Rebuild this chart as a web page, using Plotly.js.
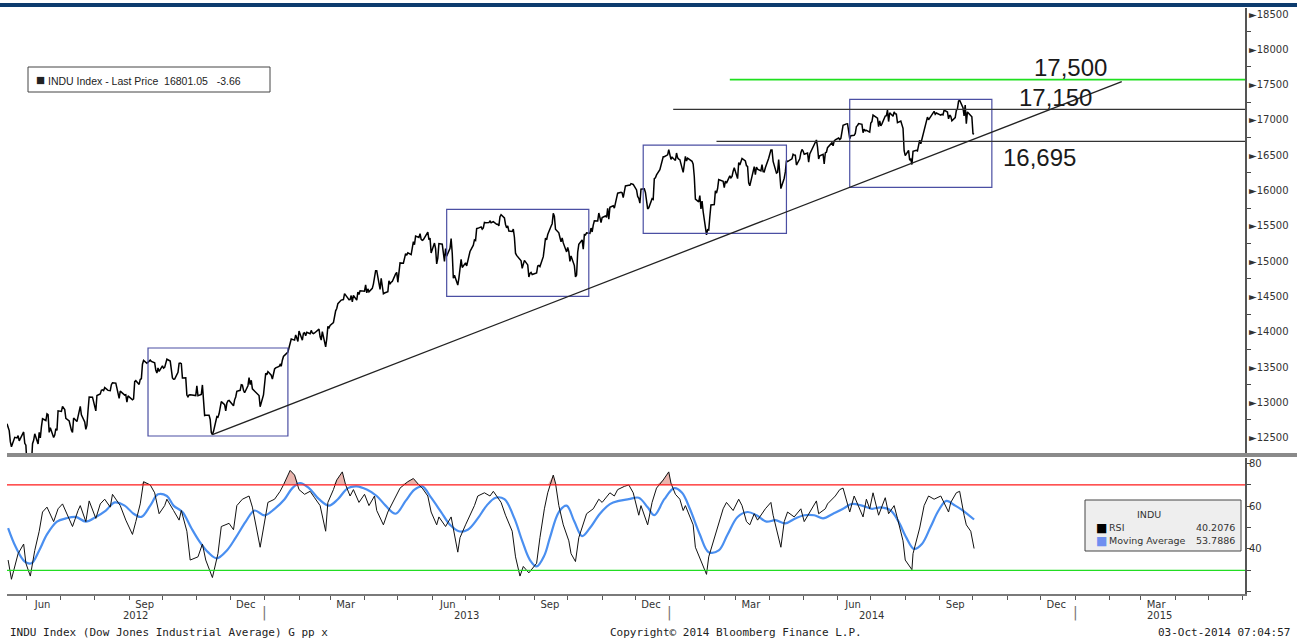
<!DOCTYPE html>
<html><head><meta charset="utf-8">
<script src="https://cdn.plot.ly/plotly-3.0.1.min.js"></script>
<style>html,body{margin:0;padding:0;background:#fff;}#chart{width:1297px;height:642px;}</style>
</head><body><div id="chart"></div>
<script>
// ---- DATA ----
const indu2012 = [
["2012-05-14",12695],["2012-05-15",12632],["2012-05-16",12599],["2012-05-17",12443],["2012-05-18",12369],["2012-05-21",12504],["2012-05-22",12502],["2012-05-23",12496],["2012-05-24",12529],["2012-05-25",12455],
["2012-05-29",12580],["2012-05-30",12419],["2012-05-31",12393],["2012-06-01",12119],["2012-06-04",12101],["2012-06-05",12127],["2012-06-06",12414],["2012-06-07",12461],["2012-06-08",12554],["2012-06-11",12411],
["2012-06-12",12574],["2012-06-13",12497],["2012-06-14",12652],["2012-06-15",12767],["2012-06-18",12742],["2012-06-19",12837],["2012-06-20",12824],["2012-06-21",12574],["2012-06-22",12640],["2012-06-25",12502],
["2012-06-26",12535],["2012-06-27",12627],["2012-06-28",12602],["2012-06-29",12880],["2012-07-02",12871],["2012-07-03",12943],["2012-07-05",12897],["2012-07-06",12772],["2012-07-09",12736],["2012-07-10",12653],
["2012-07-11",12605],["2012-07-12",12573],["2012-07-13",12777],["2012-07-16",12727],["2012-07-17",12806],["2012-07-18",12909],["2012-07-19",12943],["2012-07-20",12822],["2012-07-23",12722],["2012-07-24",12617],
["2012-07-25",12676],["2012-07-26",12888],["2012-07-27",13076],["2012-07-30",13073],["2012-07-31",13009],["2012-08-01",12976],["2012-08-02",12879],["2012-08-03",13096],["2012-08-06",13118],["2012-08-07",13169],
["2012-08-08",13176],["2012-08-09",13166],["2012-08-10",13208],["2012-08-13",13169],["2012-08-14",13172],["2012-08-15",13165],["2012-08-16",13250],["2012-08-17",13276],["2012-08-20",13272],["2012-08-21",13203],
["2012-08-22",13173],["2012-08-23",13057],["2012-08-24",13158],["2012-08-27",13124],["2012-08-28",13103],["2012-08-29",13108],["2012-08-30",13001],["2012-08-31",13091],["2012-09-04",13036],["2012-09-05",13048],
["2012-09-06",13292],["2012-09-07",13307],["2012-09-10",13254],["2012-09-11",13324],["2012-09-12",13334],["2012-09-13",13540],["2012-09-14",13593],["2012-09-17",13553],["2012-09-18",13565],["2012-09-19",13578],
["2012-09-20",13597],["2012-09-21",13580],["2012-09-24",13559],["2012-09-25",13458],["2012-09-26",13414],["2012-09-27",13486],["2012-09-28",13437],["2012-10-01",13516],["2012-10-02",13483],["2012-10-03",13495],
["2012-10-04",13575],["2012-10-05",13610],["2012-10-08",13584],["2012-10-09",13474],["2012-10-10",13345],["2012-10-11",13327],["2012-10-12",13329],["2012-10-15",13424],["2012-10-16",13551],["2012-10-17",13557],
["2012-10-18",13548],["2012-10-19",13344],["2012-10-22",13346],["2012-10-23",13103],["2012-10-24",13078],["2012-10-25",13104],["2012-10-26",13107],["2012-10-31",13096],["2012-11-01",13232],["2012-11-02",13093],
["2012-11-05",13112],["2012-11-06",13246],["2012-11-07",12933],["2012-11-08",12812],["2012-11-09",12815],["2012-11-12",12815],["2012-11-13",12757],["2012-11-14",12571],["2012-11-15",12543],["2012-11-16",12589],
["2012-11-19",12796],["2012-11-20",12788],["2012-11-21",12837],["2012-11-23",13010],["2012-11-26",12968],["2012-11-27",12879],["2012-11-28",12986],["2012-11-29",13022],["2012-11-30",13026],["2012-12-03",12966],
["2012-12-04",12951],["2012-12-05",13035],["2012-12-06",13075],["2012-12-07",13155],["2012-12-10",13170],["2012-12-11",13249],["2012-12-12",13245],["2012-12-13",13171],["2012-12-14",13135],["2012-12-17",13235],
["2012-12-18",13351],["2012-12-19",13252],["2012-12-20",13312],["2012-12-21",13190],["2012-12-24",13139],["2012-12-26",13114],["2012-12-27",13096],["2012-12-28",12938],["2012-12-31",13104]
];
const indu2013 = [
["2013-01-02",13412],["2013-01-03",13391],["2013-01-04",13435],["2013-01-07",13384],["2013-01-08",13329],["2013-01-09",13391],["2013-01-10",13472],["2013-01-11",13488],["2013-01-14",13507],["2013-01-15",13535],
["2013-01-16",13511],["2013-01-17",13596],["2013-01-18",13650],["2013-01-22",13712],["2013-01-23",13780],["2013-01-24",13825],["2013-01-25",13896],["2013-01-28",13881],["2013-01-29",13954],["2013-01-30",13910],
["2013-01-31",13861],["2013-02-01",14010],["2013-02-04",13880],["2013-02-05",13979],["2013-02-06",13986],["2013-02-07",13944],["2013-02-08",13993],["2013-02-11",13971],["2013-02-12",14019],["2013-02-13",13982],
["2013-02-14",13973],["2013-02-15",13982],["2013-02-19",14036],["2013-02-20",13928],["2013-02-21",13881],["2013-02-22",14001],["2013-02-25",13784],["2013-02-26",13900],["2013-02-27",14075],["2013-02-28",14054],
["2013-03-01",14090],["2013-03-04",14128],["2013-03-05",14254],["2013-03-06",14296],["2013-03-07",14329],["2013-03-08",14397],["2013-03-11",14448],["2013-03-12",14450],["2013-03-13",14455],["2013-03-14",14539],
["2013-03-15",14515],["2013-03-18",14453],["2013-03-19",14456],["2013-03-20",14512],["2013-03-21",14421],["2013-03-22",14513],["2013-03-25",14448],["2013-03-26",14560],["2013-03-27",14527],["2013-03-28",14579],
["2013-04-01",14573],["2013-04-02",14663],["2013-04-03",14551],["2013-04-04",14607],["2013-04-05",14565],["2013-04-08",14614],["2013-04-09",14674],["2013-04-10",14803],["2013-04-11",14865],["2013-04-12",14865],
["2013-04-15",14599],["2013-04-16",14757],["2013-04-17",14619],["2013-04-18",14537],["2013-04-19",14548],["2013-04-22",14568],["2013-04-23",14720],["2013-04-24",14676],["2013-04-25",14701],["2013-04-26",14712],
["2013-04-29",14819],["2013-04-30",14840],["2013-05-01",14700],["2013-05-02",14831],["2013-05-03",14974],["2013-05-06",14969],["2013-05-07",15056],["2013-05-08",15105],["2013-05-09",15083],["2013-05-10",15118],
["2013-05-13",15092],["2013-05-14",15216],["2013-05-15",15275],["2013-05-16",15233],["2013-05-17",15354],["2013-05-20",15335],["2013-05-21",15388],["2013-05-22",15307],["2013-05-23",15295],["2013-05-24",15303],
["2013-05-28",15410],["2013-05-29",15303],["2013-05-30",15325],["2013-05-31",15116],["2013-06-03",15255],["2013-06-04",15177],["2013-06-05",14960],["2013-06-06",15041],["2013-06-07",15248],["2013-06-10",15239],
["2013-06-11",15123],["2013-06-12",14996],["2013-06-13",15177],["2013-06-14",15071],["2013-06-17",15180],["2013-06-18",15318],["2013-06-19",15112],["2013-06-20",14758],["2013-06-21",14800],["2013-06-24",14660],
["2013-06-25",14760],["2013-06-26",14910],["2013-06-27",15024],["2013-06-28",14910],["2013-07-01",14975],["2013-07-02",14932],["2013-07-03",14988],["2013-07-05",15136],["2013-07-08",15225],["2013-07-09",15300],
["2013-07-10",15291],["2013-07-11",15460],["2013-07-12",15464],["2013-07-15",15485],["2013-07-16",15452],["2013-07-17",15471],["2013-07-18",15549],["2013-07-19",15544],["2013-07-22",15545],["2013-07-23",15568],
["2013-07-24",15543],["2013-07-25",15556],["2013-07-26",15559],["2013-07-29",15521],["2013-07-30",15521],["2013-07-31",15500],["2013-08-01",15628],["2013-08-02",15658],["2013-08-05",15612],["2013-08-06",15519],
["2013-08-07",15471],["2013-08-08",15498],["2013-08-09",15425],["2013-08-12",15419],["2013-08-13",15452],["2013-08-14",15338],["2013-08-15",15112],["2013-08-16",15081],["2013-08-19",15011],["2013-08-20",15003],
["2013-08-21",14897],["2013-08-22",14963],["2013-08-23",15010],["2013-08-26",14946],["2013-08-27",14776],["2013-08-28",14825],["2013-08-29",14840],["2013-08-30",14810],["2013-09-03",14834],["2013-09-04",14931],
["2013-09-05",14938],["2013-09-06",14922],["2013-09-09",15063],["2013-09-10",15191],["2013-09-11",15327],["2013-09-12",15301],["2013-09-13",15376],["2013-09-16",15494],["2013-09-17",15530],["2013-09-18",15677],
["2013-09-19",15636],["2013-09-20",15452],["2013-09-23",15401],["2013-09-24",15334],["2013-09-25",15273],["2013-09-26",15329],["2013-09-27",15258],["2013-09-30",15130],["2013-10-01",15192],["2013-10-02",15134],
["2013-10-03",14997],["2013-10-04",15073],["2013-10-07",14936],["2013-10-08",14776],["2013-10-09",14803],["2013-10-10",15126],["2013-10-11",15237],["2013-10-14",15301],["2013-10-15",15168],["2013-10-16",15374],
["2013-10-17",15372],["2013-10-18",15400],["2013-10-21",15392],["2013-10-22",15468],["2013-10-23",15413],["2013-10-24",15510],["2013-10-25",15570],["2013-10-28",15569],["2013-10-29",15681],["2013-10-30",15618],
["2013-10-31",15546],["2013-11-01",15616],["2013-11-04",15639],["2013-11-05",15619],["2013-11-06",15747],["2013-11-07",15594],["2013-11-08",15762],["2013-11-11",15784],["2013-11-12",15751],["2013-11-13",15822],
["2013-11-14",15876],["2013-11-15",15962],["2013-11-18",15976],["2013-11-19",15967],["2013-11-20",15900],["2013-11-21",16010],["2013-11-22",16065],["2013-11-25",16073],["2013-11-26",16073],["2013-11-27",16097],
["2013-11-29",16086],["2013-12-02",16008],["2013-12-03",15915],["2013-12-04",15889],["2013-12-05",15821],["2013-12-06",16020],["2013-12-09",16025],["2013-12-10",15973],["2013-12-11",15844],["2013-12-12",15740],
["2013-12-13",15755],["2013-12-16",15885],["2013-12-17",15875],["2013-12-18",16168],["2013-12-19",16179],["2013-12-20",16221],["2013-12-23",16295],["2013-12-24",16358],["2013-12-26",16479],["2013-12-27",16479],
["2013-12-30",16505],["2013-12-31",16577]
];
const indu2014 = [
["2014-01-02",16441],["2014-01-03",16470],["2014-01-06",16426],["2014-01-07",16531],["2014-01-08",16463],["2014-01-09",16445],["2014-01-10",16437],["2014-01-13",16257],["2014-01-14",16374],["2014-01-15",16482],
["2014-01-16",16418],["2014-01-17",16459],["2014-01-21",16414],["2014-01-22",16373],["2014-01-23",16198],["2014-01-24",15879],["2014-01-27",15838],["2014-01-28",15929],["2014-01-29",15739],["2014-01-30",15849],
["2014-01-31",15699],["2014-02-03",15373],["2014-02-04",15445],["2014-02-05",15441],["2014-02-06",15629],["2014-02-07",15795],["2014-02-10",15802],["2014-02-11",15995],["2014-02-12",15964],["2014-02-13",16028],
["2014-02-14",16154],["2014-02-18",16130],["2014-02-19",16041],["2014-02-20",16134],["2014-02-21",16104],["2014-02-24",16208],["2014-02-25",16179],["2014-02-26",16199],["2014-02-27",16273],["2014-02-28",16322],
["2014-03-03",16168],["2014-03-04",16396],["2014-03-05",16361],["2014-03-06",16422],["2014-03-07",16453],["2014-03-10",16418],["2014-03-11",16351],["2014-03-12",16341],["2014-03-13",16109],["2014-03-14",16066],
["2014-03-17",16247],["2014-03-18",16337],["2014-03-19",16223],["2014-03-20",16332],["2014-03-21",16302],["2014-03-24",16277],["2014-03-25",16368],["2014-03-26",16268],["2014-03-27",16264],["2014-03-28",16323],
["2014-03-31",16458],["2014-04-01",16533],["2014-04-02",16573],["2014-04-03",16573],["2014-04-04",16413],["2014-04-07",16246],["2014-04-08",16257],["2014-04-09",16437],["2014-04-10",16171],["2014-04-11",16027],
["2014-04-14",16174],["2014-04-15",16263],["2014-04-16",16425],["2014-04-17",16409],["2014-04-21",16449],["2014-04-22",16514],["2014-04-23",16502],["2014-04-24",16501],["2014-04-25",16361],["2014-04-28",16448],
["2014-04-29",16535],["2014-04-30",16581],["2014-05-01",16558],["2014-05-02",16513],["2014-05-05",16531],["2014-05-06",16402],["2014-05-07",16518],["2014-05-08",16551],["2014-05-09",16583],["2014-05-12",16695],
["2014-05-13",16716],["2014-05-14",16614],["2014-05-15",16447],["2014-05-16",16492],["2014-05-19",16512],["2014-05-20",16375],["2014-05-21",16533],["2014-05-22",16543],["2014-05-23",16606],["2014-05-27",16676],
["2014-05-28",16633],["2014-05-29",16699],["2014-05-30",16717],["2014-06-02",16744],["2014-06-03",16722],["2014-06-04",16738],["2014-06-05",16836],["2014-06-06",16924],["2014-06-09",16944],["2014-06-10",16946],
["2014-06-11",16844],["2014-06-12",16735],["2014-06-13",16776],["2014-06-16",16781],["2014-06-17",16808],["2014-06-18",16906],["2014-06-19",16921],["2014-06-20",16947],["2014-06-23",16937],["2014-06-24",16819],
["2014-06-25",16868],["2014-06-26",16846],["2014-06-27",16852],["2014-06-30",16827],["2014-07-01",16957],["2014-07-02",16976],["2014-07-03",17068],["2014-07-07",17024],["2014-07-08",16906],["2014-07-09",16985],
["2014-07-10",16915],["2014-07-11",16944],["2014-07-14",17055],["2014-07-15",17061],["2014-07-16",17139],["2014-07-17",16977],["2014-07-18",17100],["2014-07-21",17052],["2014-07-22",17114],["2014-07-23",17087],
["2014-07-24",17083],["2014-07-25",16961],["2014-07-28",16983],["2014-07-29",16913],["2014-07-30",16881],["2014-07-31",16563],["2014-08-01",16493],["2014-08-04",16569],["2014-08-05",16430],["2014-08-06",16443],
["2014-08-07",16368],["2014-08-08",16554],["2014-08-11",16570],["2014-08-12",16561],["2014-08-13",16652],["2014-08-14",16713],["2014-08-15",16663],["2014-08-18",16839],["2014-08-19",16920],["2014-08-20",16979],
["2014-08-21",17040],["2014-08-22",17001],["2014-08-25",17077],["2014-08-26",17107],["2014-08-27",17122],["2014-08-28",17080],["2014-08-29",17098],["2014-09-02",17068],["2014-09-03",17079],["2014-09-04",17070],
["2014-09-05",17138],["2014-09-08",17112],["2014-09-09",17014],["2014-09-10",17068],["2014-09-11",17050],["2014-09-12",16988],["2014-09-15",17032],["2014-09-16",17132],["2014-09-17",17157],["2014-09-18",17266],
["2014-09-19",17280],["2014-09-22",17173],["2014-09-23",17056],["2014-09-24",17211],["2014-09-25",16946],["2014-09-26",17113],["2014-09-29",17071],["2014-09-30",17043],["2014-10-01",16805],["2014-10-02",16801]
];
const rsiPoints = [
["2012-05-15",34.8],["2012-05-18",25.8],["2012-05-24",37.8],["2012-05-29",42.3],["2012-05-31",33.3],["2012-06-04",27.3],["2012-06-08",39.3],["2012-06-12",48.3],["2012-06-15",57.3],["2012-06-19",59.6],
["2012-06-25",52.8],["2012-06-29",58.8],["2012-07-03",61.1],["2012-07-09",54.3],["2012-07-12",50.5],["2012-07-17",58],["2012-07-19",60.3],["2012-07-24",52.8],["2012-07-27",62.5],["2012-08-02",54.3],
["2012-08-06",61.1],["2012-08-10",63.3],["2012-08-15",59.6],["2012-08-17",65.6],["2012-08-24",60.3],["2012-08-29",53.5],["2012-09-04",46.8],["2012-09-07",52.8],["2012-09-11",61.1],["2012-09-14",71.5],
["2012-09-20",70],["2012-09-24",66.3],["2012-09-28",56.5],["2012-10-03",60.3],["2012-10-05",63.3],["2012-10-11",58],["2012-10-16",53.5],["2012-10-18",58],["2012-10-23",48.3],["2012-10-26",34.8],
["2012-11-02",36.3],["2012-11-06",42.3],["2012-11-09",34.8],["2012-11-15",26.6],["2012-11-20",37.8],["2012-11-23",50.5],["2012-11-30",52],["2012-12-04",49],["2012-12-07",60.3],["2012-12-12",63.3],
["2012-12-18",64.8],["2012-12-21",59.6],["2012-12-28",40.8],["2013-01-02",55.7],["2013-01-04",61.8],["2013-01-10",63.3],["2013-01-15",67],["2013-01-18",70],["2013-01-24",76.8],["2013-01-28",74.6],
["2013-02-01",67.8],["2013-02-06",65.6],["2013-02-11",67],["2013-02-15",64],["2013-02-20",60.3],["2013-02-25",48.3],["2013-02-27",61.8],["2013-03-04",67.8],["2013-03-07",72.3],["2013-03-12",76.1],
["2013-03-15",70],["2013-03-19",64.8],["2013-03-22",67.8],["2013-03-27",61.8],["2013-04-01",65.6],["2013-04-05",60.3],["2013-04-10",64.8],["2013-04-12",58],["2013-04-18",51.3],["2013-04-22",57.3],
["2013-04-29",64.8],["2013-05-03",68.5],["2013-05-10",71.5],["2013-05-15",73],["2013-05-20",70],["2013-05-23",68.5],["2013-05-28",64.8],["2013-05-31",57.3],["2013-06-05",51.3],["2013-06-07",55],
["2013-06-13",50.5],["2013-06-18",55],["2013-06-24",38.5],["2013-06-26",45.3],["2013-07-01",51.3],["2013-07-05",55.8],["2013-07-09",60.3],["2013-07-12",64.8],["2013-07-18",66.3],["2013-07-23",64.8],
["2013-07-26",67],["2013-08-02",61.8],["2013-08-06",55.8],["2013-08-12",48.3],["2013-08-15",36.3],["2013-08-19",27.3],["2013-08-22",31.8],["2013-08-27",28.8],["2013-09-03",33.3],["2013-09-06",45.3],
["2013-09-10",58.8],["2013-09-13",66.3],["2013-09-18",74.6],["2013-09-20",70.8],["2013-09-23",60.3],["2013-09-27",51.3],["2013-10-02",43.8],["2013-10-04",37.8],["2013-10-08",34.1],["2013-10-11",45.3],
["2013-10-16",52.8],["2013-10-18",56.5],["2013-10-24",58.8],["2013-10-29",63.3],["2013-11-01",61.8],["2013-11-08",66.3],["2013-11-12",64.8],["2013-11-15",67.8],["2013-11-21",69.3],["2013-11-25",70],
["2013-11-29",66.3],["2013-12-04",55.8],["2013-12-06",60.3],["2013-12-12",51.3],["2013-12-16",61.8],["2013-12-20",68.5],["2013-12-26",72.3],["2013-12-31",76.1],["2014-01-02",70.8],["2014-01-06",65.6],
["2014-01-10",63.3],["2014-01-13",58],["2014-01-15",60.3],["2014-01-22",51.3],["2014-01-24",40.8],["2014-01-29",34.8],["2014-02-03",28.1],["2014-02-05",36.3],["2014-02-10",45.3],["2014-02-14",52.8],
["2014-02-18",58.8],["2014-02-21",61.8],["2014-02-27",58],["2014-03-04",63.3],["2014-03-07",60.3],["2014-03-11",52.8],["2014-03-14",51.3],["2014-03-18",56.5],["2014-03-21",53.5],["2014-03-28",58.8],
["2014-04-02",61.8],["2014-04-04",55.8],["2014-04-11",40.8],["2014-04-14",52.8],["2014-04-17",57.3],["2014-04-23",55],["2014-04-29",58.8],["2014-05-02",52.8],["2014-05-07",57.3],["2014-05-13",62.5],
["2014-05-15",56.5],["2014-05-21",58.8],["2014-05-23",61.1],["2014-05-30",64.8],["2014-06-03",67.8],["2014-06-06",68.5],["2014-06-12",57.3],["2014-06-16",64.8],["2014-06-24",55],["2014-06-27",63.3],
["2014-06-30",58.8],["2014-07-03",66.3],["2014-07-08",55.8],["2014-07-14",64],["2014-07-17",56.5],["2014-07-22",60.3],["2014-07-25",54.3],["2014-07-30",43.8],["2014-08-01",34.8],["2014-08-07",30.3],
["2014-08-08",37.8],["2014-08-14",49.8],["2014-08-18",60.3],["2014-08-22",64.8],["2014-08-27",63.3],["2014-09-02",64.8],["2014-09-09",57.3],["2014-09-11",61.8],["2014-09-16",66.3],["2014-09-19",67],
["2014-09-23",55.8],["2014-09-25",51.3],["2014-09-29",48.3],["2014-10-02",40.21]
];
const maPoints = [
["2012-05-15",49.8],["2012-05-22",40.8],["2012-05-30",34.1],["2012-06-05",33.3],["2012-06-12",39.3],["2012-06-19",46.8],["2012-06-28",52.8],["2012-07-06",54.3],["2012-07-15",55],["2012-07-24",52.8],
["2012-08-02",55],["2012-08-11",58],["2012-08-19",61.8],["2012-08-28",60.3],["2012-09-05",56.5],["2012-09-12",55],["2012-09-20",60.3],["2012-09-27",65.6],["2012-10-05",64.8],["2012-10-11",60.3],
["2012-10-19",57.3],["2012-10-27",49.8],["2012-11-03",43.8],["2012-11-11",38.5],["2012-11-19",35.6],["2012-11-28",39.3],["2012-12-06",45.3],["2012-12-15",52.8],["2012-12-23",58],["2013-01-01",55.7],
["2013-01-10",58.8],["2013-01-19",63.3],["2013-01-26",68.5],["2013-02-02",70.8],["2013-02-10",68.5],["2013-02-19",63.3],["2013-02-28",60.3],["2013-03-08",63.3],["2013-03-17",68.5],["2013-03-25",69.3],
["2013-04-03",67.8],["2013-04-12",64.8],["2013-04-20",60.3],["2013-04-29",56.5],["2013-05-08",62.5],["2013-05-16",67.8],["2013-05-23",69.3],["2013-05-31",64],["2013-06-09",57.3],["2013-06-17",51.3],
["2013-06-25",48.3],["2013-07-03",49],["2013-07-12",54.3],["2013-07-20",60.3],["2013-07-28",64],["2013-08-05",63.3],["2013-08-14",54.3],["2013-08-21",43.8],["2013-08-28",34.8],["2013-09-03",31.8],
["2013-09-10",37],["2013-09-15",45.3],["2013-09-23",57.3],["2013-09-30",60.3],["2013-10-07",52.8],["2013-10-14",46],["2013-10-21",49.8],["2013-10-30",56.5],["2013-11-08",61],["2013-11-16",62.5],
["2013-11-25",63.3],["2013-12-04",64],["2013-12-12",59.5],["2013-12-18",55.8],["2013-12-27",63.3],["2014-01-05",68.5],["2014-01-12",66.3],["2014-01-19",58.8],["2014-01-28",46.8],["2014-02-05",38.5],
["2014-02-14",39.3],["2014-02-22",46.8],["2014-03-03",55],["2014-03-12",57.3],["2014-03-20",55.8],["2014-03-29",52.8],["2014-04-06",53.5],["2014-04-15",52],["2014-04-24",54.3],["2014-05-02",55.8],
["2014-05-11",55.8],["2014-05-19",54.3],["2014-05-28",56.5],["2014-06-06",58.8],["2014-06-14",61.1],["2014-06-23",60.3],["2014-07-02",58.8],["2014-07-10",59.5],["2014-07-19",58],["2014-07-26",52.8],
["2014-08-02",45.3],["2014-08-09",40],["2014-08-16",42.3],["2014-08-24",50.5],["2014-08-31",58],["2014-09-07",62.5],["2014-09-15",60.3],["2014-09-22",58],["2014-10-02",53.79]
];
const boxes = [
  {x0:"2012-09-18", x1:"2013-01-22", y0:12523, y1:13769},
  {x0:"2013-06-14", x1:"2013-10-20", y0:14501, y1:15734},
  {x0:"2013-12-08", x1:"2014-04-16", y0:15394, y1:16644},
  {x0:"2014-06-12", x1:"2014-10-18", y0:16045, y1:17292}
];
const levelLabels = ["17,500", "17,150", "16,695"];
const levelValues = [17570, 17150, 16695];
const levelStarts = ["2014-02-24", "2014-01-04", "2014-02-12"];
const levelColors = ["#1fe01f", "#333333", "#333333"];
const labelPos = [["2014-12-28",17749],["2014-12-14",17324],["2014-11-30",16474]];
const trendStart = ["2012-11-15", 12542];
const trendEnd = ["2015-02-12", 17541];
const monthTickVals = ["2012-06-15","2012-09-15","2012-12-15","2013-03-15","2013-06-15","2013-09-15","2013-12-15","2014-03-15","2014-06-15","2014-09-15","2014-12-15","2015-03-15"];
const monthTickText = ["Jun","Sep","Dec","Mar","Jun","Sep","Dec","Mar","Jun","Sep","Dec","Mar"];
const yearLabels = ["2012","2013","2014","2015"];
const yearCenters = ["2012-09-07","2013-07-02","2014-07-02","2015-03-18"];
const yearStarts = ["2013-01-01","2014-01-01","2015-01-01"];
const xRange = ["2012-05-14","2015-06-03"];

// ---- LAYOUT HELPERS ----
const W=1297, H=642, ML=7, MR=52, MT=8, MB=48;
const PW=W-ML-MR, PH=H-MT-MB;
const px = x => (x-ML)/PW;
const py = y => (H-MB-y)/PH;

const price = indu2012.concat(indu2013, indu2014);
const FONT = '"DejaVu Sans", sans-serif';
const MONO = '"DejaVu Sans Mono", monospace';

const traces = [
  {x: price.map(p=>p[0]), y: price.map(p=>p[1]), xaxis:'x2', yaxis:'y2', type:'scatter', mode:'lines',
   line:{color:'#000', width:1.5}, hoverinfo:'skip'},
  {x: rsiPoints.map(p=>p[0]), y: rsiPoints.map(()=>70), xaxis:'x', yaxis:'y', mode:'lines', line:{width:0}, hoverinfo:'skip'},
  {x: rsiPoints.map(p=>p[0]), y: rsiPoints.map(p=>Math.max(p[1],70)), xaxis:'x', yaxis:'y', mode:'lines', line:{width:0},
   fill:'tonexty', fillcolor:'rgba(225,150,140,0.7)', hoverinfo:'skip'},
  {x: maPoints.map(p=>p[0]), y: maPoints.map(p=>p[1]), xaxis:'x', yaxis:'y', mode:'lines',
   line:{color:'#4a8ff0', width:2.2, shape:'spline', smoothing:1}, hoverinfo:'skip'},
  {x: rsiPoints.map(p=>p[0]), y: rsiPoints.map(p=>p[1]), xaxis:'x', yaxis:'y', mode:'lines',
   line:{color:'#111', width:1}, hoverinfo:'skip'}
];

const shapes = [];
shapes.push({type:'rect', xref:'paper', yref:'paper', x0:px(0), x1:px(W), y0:py(7), y1:py(3), fillcolor:'#0d3b6e', line:{width:0}});
shapes.push({type:'rect', xref:'paper', yref:'paper', x0:px(ML), x1:px(W), y0:py(457), y1:py(453), fillcolor:'#8a8a8a', line:{width:0}});
boxes.forEach(b=>shapes.push({type:'rect', xref:'x2', yref:'y2', x0:b.x0, x1:b.x1, y0:b.y0, y1:b.y1, line:{color:'#4b4fa3', width:1.2}}));
levelValues.forEach((v,i)=>shapes.push({type:'line', xref:'x2', yref:'y2', x0:levelStarts[i], x1:xRange[1], y0:v, y1:v, line:{color:levelColors[i], width:i===0?1.6:1.3}}));
shapes.push({type:'line', xref:'x2', yref:'y2', x0:trendStart[0], y0:trendStart[1], x1:trendEnd[0], y1:trendEnd[1], line:{color:'#222', width:1.3}});
shapes.push({type:'line', xref:'paper', yref:'y', x0:0, x1:1, y0:70, y1:70, line:{color:'#ff1a1a', width:1.2}});
shapes.push({type:'line', xref:'paper', yref:'y', x0:0, x1:1, y0:30, y1:30, line:{color:'#22dd22', width:1.2}});
shapes.push({type:'rect', xref:'paper', yref:'paper', x0:px(28), x1:px(270), y0:py(92), y1:py(67), fillcolor:'#fff', line:{color:'#444', width:1}});
shapes.push({type:'rect', xref:'paper', yref:'paper', x0:px(1085), x1:px(1241), y0:py(551), y1:py(500), fillcolor:'#eeeeee', line:{color:'#444', width:1}});

const annotations = [];
function note(o){ o.showarrow=false; if(!o.yanchor) o.yanchor='middle'; annotations.push(o); }
levelLabels.forEach((t,i)=>note({xref:'x2', yref:'y2', x:labelPos[i][0], y:labelPos[i][1], text:t,
  font:{family:'"Liberation Sans", Arial, sans-serif', size:24, color:'#1a1a1a'}}));
yearLabels.forEach((t,i)=>note({xref:'x', yref:'paper', x:yearCenters[i], y:py(616), text:t,
  font:{family:FONT, size:10, color:'#333'}}));
yearStarts.forEach(d=>note({xref:'x', yref:'paper', x:d, y:py(612), text:'|',
  font:{family:FONT, size:14, color:'#777'}}));
note({xref:'paper', yref:'paper', x:px(34), y:py(79.5), xanchor:'left',
  text:'<span style="font-size:15px">■</span> INDU Index - Last Price\u00a0\u00a016801.05\u00a0\u00a0\u00a0-3.66',
  font:{family:'"Liberation Sans", Arial, sans-serif', size:10.5, color:'#222'}});
note({xref:'paper', yref:'paper', x:px(1163), y:py(514), text:'INDU', font:{family:FONT, size:9.5, color:'#333'}});
note({xref:'paper', yref:'paper', x:px(1094), y:py(527.5), xanchor:'left', text:'■', font:{family:FONT, size:12, color:'#000'}});
note({xref:'paper', yref:'paper', x:px(1107), y:py(527.5), xanchor:'left', text:'RSI', font:{family:FONT, size:9.5, color:'#333'}});
note({xref:'paper', yref:'paper', x:px(1237), y:py(527.5), xanchor:'right', text:'40.2076', font:{family:FONT, size:9.5, color:'#333'}});
note({xref:'paper', yref:'paper', x:px(1094), y:py(540.5), xanchor:'left', text:'■', font:{family:FONT, size:12, color:'#6f8ff0'}});
note({xref:'paper', yref:'paper', x:px(1107), y:py(540.5), xanchor:'left', text:'Moving Average', font:{family:FONT, size:9.5, color:'#333'}});
note({xref:'paper', yref:'paper', x:px(1237), y:py(540.5), xanchor:'right', text:'53.7886', font:{family:FONT, size:9.5, color:'#333'}});
note({xref:'paper', yref:'paper', x:px(8), y:py(632), xanchor:'left', text:'INDU Index (Dow Jones Industrial Average) G pp x', font:{family:MONO, size:11, color:'#222'}});
note({xref:'paper', yref:'paper', x:px(736), y:py(632), text:'Copyright© 2014 Bloomberg Finance L.P.', font:{family:MONO, size:11, color:'#222'}});
note({xref:'paper', yref:'paper', x:px(1292), y:py(632), xanchor:'right', text:'03-Oct-2014 07:04:57', font:{family:MONO, size:11, color:'#222'}});

const layout = {
  width:W, height:H, margin:{l:ML, r:MR, t:MT, b:MB, pad:0},
  paper_bgcolor:'#fff', plot_bgcolor:'#fff', showlegend:false,
  xaxis:{domain:[0,1], anchor:'y', type:'date', range:xRange, showgrid:false, zeroline:false,
    showline:true, linecolor:'#7a7a7a', linewidth:2,
    tickmode:'array', tickvals:monthTickVals, ticktext:monthTickText, ticks:'',
    tickfont:{family:FONT, size:10, color:'#333'},
    minor:{ticks:'outside', dtick:'M1', tick0:'2012-01-01', ticklen:4, tickcolor:'#555', tickwidth:1, showgrid:false}},
  yaxis:{domain:[0, py(458)], anchor:'x', side:'right', range:[18.9, 82.6], showgrid:false, zeroline:false,
    showline:true, linecolor:'#555', linewidth:2, tickmode:'array', tickvals:[40,60,80], ticks:'', tickprefix:'►',
    tickfont:{family:FONT, size:10, color:'#333'},
    minor:{ticks:'outside', dtick:10, tick0:0, ticklen:4, tickcolor:'#444', tickwidth:1, showgrid:false}},
  xaxis2:{domain:[0,1], anchor:'y2', matches:'x', type:'date', showgrid:false, zeroline:false, showticklabels:false, ticks:'', showline:false},
  yaxis2:{domain:[py(453), 1], anchor:'x2', side:'right', range:[12282, 18585], showgrid:false, zeroline:false,
    showline:true, linecolor:'#555', linewidth:2, dtick:500, tick0:0, ticks:'', tickprefix:'►', tickformat:'d',
    tickfont:{family:FONT, size:10, color:'#333'},
    minor:{ticks:'outside', dtick:250, tick0:0, ticklen:4, tickcolor:'#444', tickwidth:1, showgrid:false}},
  shapes:shapes, annotations:annotations
};
Plotly.newPlot('chart', traces, layout, {displayModeBar:false, staticPlot:true});
</script>
</body></html>
